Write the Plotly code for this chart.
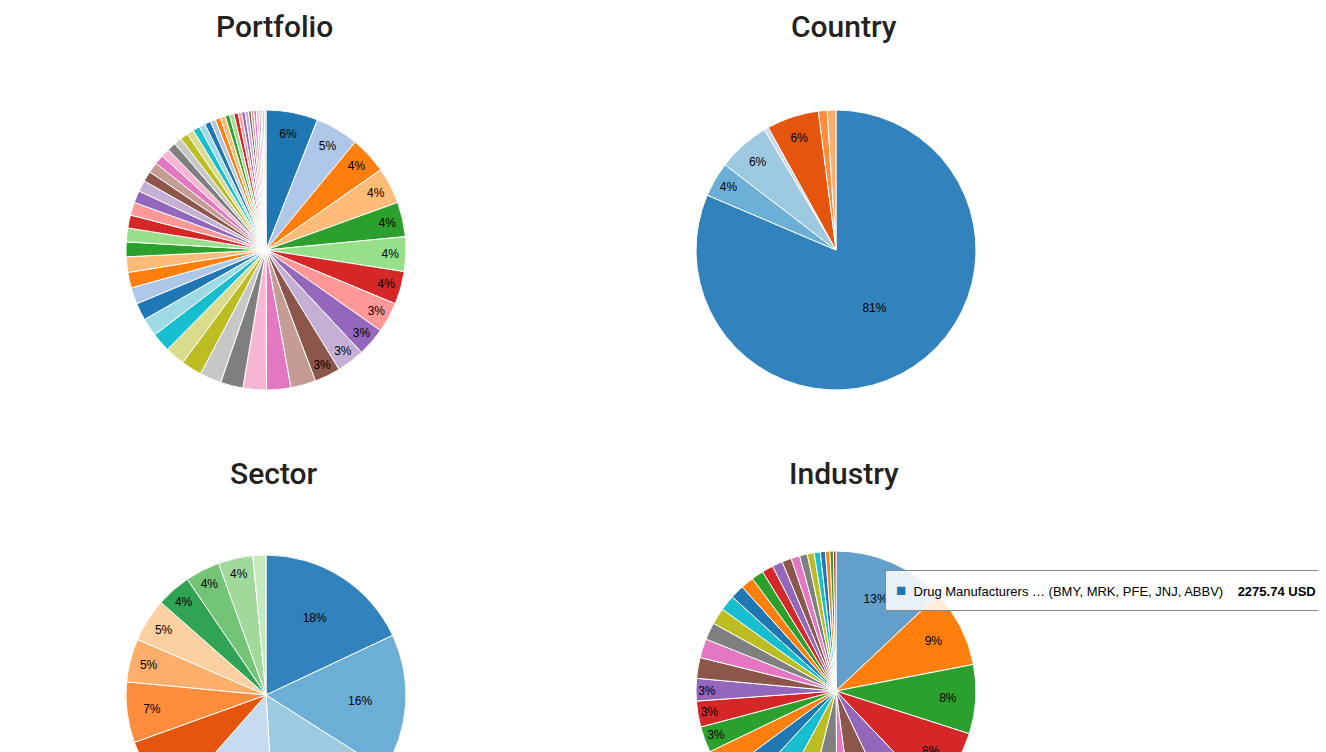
import plotly.graph_objects as go

tab10 = ['#1f77b4', '#ff7f0e', '#2ca02c', '#d62728', '#9467bd', '#8c564b', '#e377c2', '#7f7f7f', '#bcbd22', '#17becf']
tab20 = ['#1f77b4', '#aec7e8', '#ff7f0e', '#ffbb78', '#2ca02c', '#98df8a', '#d62728', '#ff9896', '#9467bd', '#c5b0d5',
         '#8c564b', '#c49c94', '#e377c2', '#f7b6d2', '#7f7f7f', '#c7c7c7', '#bcbd22', '#dbdb8d', '#17becf', '#9edae5']
tab20c = ['#3182bd', '#6baed6', '#9ecae1', '#c6dbef', '#e6550d', '#fd8d3c', '#fdae6b', '#fdd0a2',
          '#31a354', '#74c476', '#a1d99b', '#c7e9c0']

# Portfolio holdings (share of value, %)
portfolio_values = [6.0, 5.0, 4.3, 4.2, 4.0, 4.0, 3.8, 3.5, 3.3, 3.2,
                    3.0, 2.9, 2.8, 2.7, 2.6, 2.5, 2.4, 2.3, 2.2, 2.1,
                    2.0, 1.9, 1.8, 1.8, 1.7, 1.6, 1.5, 1.5, 1.4, 1.3,
                    1.2, 1.2, 1.1, 1.0, 1.0, 0.9, 0.9, 0.8, 0.8, 0.7,
                    0.7, 0.6, 0.6, 0.6, 0.5, 0.5, 0.5, 0.4, 0.4, 0.4,
                    0.3, 0.3, 0.3, 0.3, 0.2, 0.2, 0.2, 0.2]
portfolio_labels = ['Holding %d' % (i + 1) for i in range(len(portfolio_values))]

country_labels = ['United States', 'Ireland', 'United Kingdom', 'Canada', 'Switzerland', 'Netherlands', 'Denmark']
country_values = [81, 4, 6, 0.5, 6, 1, 1]

sector_labels = ['Healthcare', 'Technology', 'Consumer Defensive', 'Financial Services', 'Industrials',
                 'Consumer Cyclical', 'Communication Services', 'Energy', 'Utilities', 'Basic Materials',
                 'Real Estate', 'Other']
sector_values = [18, 16, 15, 12.5, 8, 7, 5, 5, 4, 4, 4, 1.5]

industry_values = [13, 9, 8, 8, 5, 5, 2, 4, 4, 4, 3, 3, 3, 3,
                   2.6, 2.4, 2.2, 2.0, 1.9, 1.8, 1.6, 1.5, 1.4, 1.3,
                   1.2, 1.1, 1.0, 0.9, 0.8, 0.7, 0.6, 0.5, 0.4, 0.3]
industry_labels = ['Drug Manufacturers'] + ['Industry %d' % (i + 2) for i in range(len(industry_values) - 1)]

industry_colors = [tab10[i % 10] for i in range(len(industry_values))]
industry_colors[0] = '#62a0cb'  # hovered slice

H = 1000
W = 1326
def dom_y(top, bottom):
    return [1 - bottom / H, 1 - top / H]

def dom_x(left, right):
    return [left / W, right / W]

common = dict(sort=False, direction='clockwise', textposition='inside',
              insidetextorientation='horizontal',
              textfont=dict(color='black', size=12, family='Liberation Sans, Arial'),
              marker_line=dict(color='white', width=1), showlegend=False, hoverinfo='none')

# only the larger holdings get a label in the portfolio pie
portfolio_tpl = ['%{percent:.0%}' if i < 11 else '' for i in range(len(portfolio_values))]

fig = go.Figure()
fig.add_trace(go.Pie(labels=portfolio_labels, values=portfolio_values, texttemplate=portfolio_tpl,
                     marker_colors=[tab20[i % 20] for i in range(len(portfolio_values))],
                     domain=dict(x=dom_x(118, 398), y=dom_y(102, 382)), **common))
fig.add_trace(go.Pie(labels=country_labels, values=country_values, marker_colors=tab20c[:7],
                     texttemplate='%{percent:.0%}',
                     domain=dict(x=dom_x(688, 968), y=dom_y(102, 382)), **common))
fig.add_trace(go.Pie(labels=sector_labels, values=sector_values, marker_colors=tab20c,
                     texttemplate='%{percent:.0%}',
                     domain=dict(x=dom_x(118, 398), y=dom_y(547, 827)), **common))
fig.add_trace(go.Pie(labels=industry_labels, values=industry_values, marker_colors=industry_colors,
                     texttemplate='%{percent:.0%}',
                     domain=dict(x=dom_x(688, 968), y=dom_y(543, 823)), **common))

titles = [('Portfolio', 266, 18), ('Country', 836, 18), ('Sector', 266, 465), ('Industry', 836, 465)]
for t, x, y in titles:
    fig.add_annotation(text=t, x=x / W, y=1 - y / H, xref='paper', yref='paper', showarrow=False,
                       xanchor='center', yanchor='middle',
                       font=dict(size=30, color='#222', family='Roboto', weight=500))

# tooltip box as seen in the screenshot
fig.add_annotation(text='<span style="color:#1f77b4;font-size:17px">■</span>  Drug Manufacturers … (BMY, MRK, PFE, JNJ, ABBV)    <b>2275.74 USD</b>',
                   x=877 / W, y=1 - 582 / H, xref='paper', yref='paper', xanchor='left', yanchor='middle',
                   showarrow=False, align='left',
                   font=dict(size=13, color='black', family='Liberation Sans, Arial'),
                   bgcolor='rgba(255,255,255,0.85)', bordercolor='#888', borderwidth=1, borderpad=10)

fig.update_layout(width=W, height=H, margin=dict(l=0, r=0, t=0, b=0),
                  paper_bgcolor='white', uniformtext=dict(minsize=12, mode='hide'))
fig.write_html('out.html')
